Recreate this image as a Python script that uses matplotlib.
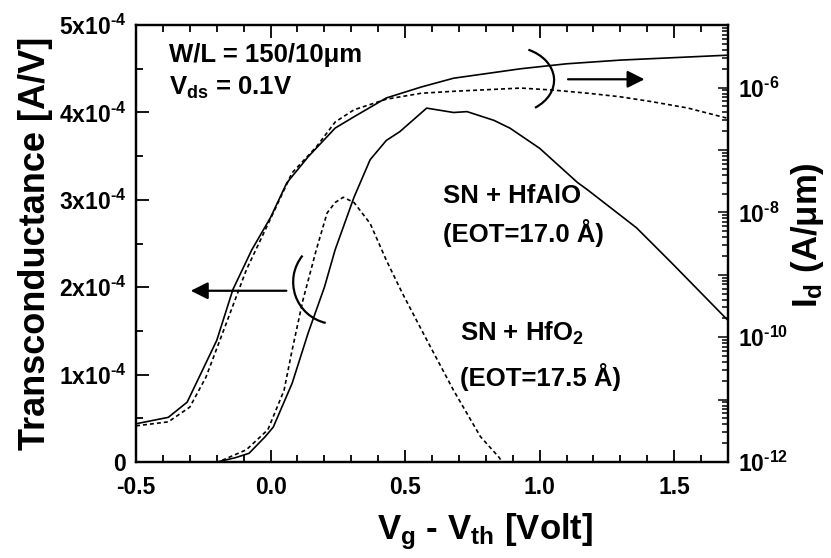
import math
import matplotlib
matplotlib.use('Agg')
import matplotlib.pyplot as plt
from matplotlib.patches import Arc
from matplotlib.transforms import ScaledTranslation
from matplotlib.ticker import MultipleLocator, FuncFormatter, LogLocator, NullFormatter

plt.rcParams['font.family'] = ['Liberation Sans', 'DejaVu Sans']
plt.rcParams['font.weight'] = 'bold'
plt.rcParams['mathtext.fontset'] = 'custom'
plt.rcParams['mathtext.rm'] = 'Liberation Sans:bold'
plt.rcParams['mathtext.it'] = 'Liberation Sans:bold'
plt.rcParams['mathtext.bf'] = 'Liberation Sans:bold'

# transconductance (left axis)
gm_v_hfalo = [-0.20, -0.13, -0.08, -0.02, 0.01, 0.08, 0.14, 0.20, 0.24, 0.31, 0.37, 0.43,
              0.48, 0.58, 0.68, 0.73, 0.83, 0.89, 1.00, 1.14, 1.18, 1.36, 1.49, 1.70]
gm_hfalo = [0.0, 0.05e-4, 0.10e-4, 0.29e-4, 0.40e-4, 0.90e-4, 1.48e-4, 2.00e-4, 2.43e-4,
            3.03e-4, 3.46e-4, 3.68e-4, 3.78e-4, 4.05e-4, 4.00e-4, 4.01e-4, 3.91e-4, 3.82e-4,
            3.59e-4, 3.20e-4, 3.11e-4, 2.68e-4, 2.28e-4, 1.62e-4]

gm_v_hfo2 = [-0.18, -0.09, -0.01, 0.05, 0.08, 0.12, 0.17, 0.21, 0.24, 0.27, 0.31, 0.37,
             0.43, 0.49, 0.58, 0.68, 0.78, 0.85, 0.86]
gm_hfo2 = [0.02e-4, 0.14e-4, 0.37e-4, 0.82e-4, 1.28e-4, 1.85e-4, 2.43e-4, 2.85e-4, 2.97e-4,
           3.03e-4, 2.97e-4, 2.73e-4, 2.31e-4, 1.93e-4, 1.40e-4, 0.82e-4, 0.29e-4, 0.05e-4, 0.0]

# drain current (right axis, log)
id_v_hfalo = [-0.50, -0.38, -0.31, -0.20, -0.14, -0.07, 0.00, 0.06, 0.14, 0.24, 0.31, 0.43,
              0.56, 0.68, 0.93, 1.10, 1.30, 1.70]
id_hfalo = [4.1e-12, 5.2e-12, 9.1e-12, 8.9e-11, 5.8e-10, 2.5e-9, 8.3e-9, 2.95e-8, 7.8e-8,
            2.24e-7, 3.4e-7, 6.8e-7, 1.02e-6, 1.41e-6, 2.0e-6, 2.4e-6, 2.75e-6, 3.3e-6]

id_v_hfo2 = [-0.50, -0.38, -0.30, -0.24, -0.17, -0.09, 0.01, 0.08, 0.17, 0.24, 0.31, 0.43,
             0.56, 0.68, 0.93, 1.05, 1.18, 1.30, 1.42, 1.55, 1.70]
id_hfo2 = [3.8e-12, 4.4e-12, 7.6e-12, 2.3e-11, 1.45e-10, 1.2e-9, 9.8e-9, 4.3e-8, 1.12e-7,
           2.8e-7, 4.4e-7, 6.5e-7, 8.1e-7, 8.7e-7, 9.8e-7, 9.1e-7, 8.1e-7, 7.1e-7, 5.9e-7,
           4.7e-7, 3.2e-7]

HY = '\u2010'  # short hyphen for exponents

fig = plt.figure(figsize=(8.31, 5.58), dpi=100)
ax = fig.add_axes([0.1637, 0.172, 0.7124, 0.783])
ax2 = ax.twinx()

dash = (0, (2.4, 1.8))
ax.plot(gm_v_hfalo, gm_hfalo, color='black', lw=1.2)
ax.plot(gm_v_hfo2, gm_hfo2, color='black', lw=1.2, linestyle=dash)
ax2.plot(id_v_hfalo, id_hfalo, color='black', lw=1.2)
ax2.plot(id_v_hfo2, id_hfo2, color='black', lw=1.2, linestyle=dash)

ax.set_xlim(-0.5, 1.7)
ax.set_ylim(0, 5e-4)
ax2.set_yscale('log')
ax2.set_ylim(1e-12, 1e-5)

ax.xaxis.set_major_locator(MultipleLocator(0.5))
ax.xaxis.set_minor_locator(MultipleLocator(0.1))
ax.yaxis.set_major_locator(MultipleLocator(1e-4))
ax.yaxis.set_minor_locator(MultipleLocator(0.5e-4))
ax.xaxis.set_major_formatter(FuncFormatter(lambda v, p: '%.1f' % v))
ax.yaxis.set_major_formatter(FuncFormatter(
    lambda v, p: '0' if abs(v) < 1e-9 else r'$%dx10^{%s4}$' % (round(v * 1e4), HY)))

ax2.yaxis.set_major_locator(LogLocator(base=10, numticks=20))
ax2.yaxis.set_minor_locator(LogLocator(base=10, subs=range(2, 10), numticks=100))
ax2.yaxis.set_minor_formatter(NullFormatter())


def log_label(v, p):
    e = int(round(math.log10(v)))
    return r'$10^{%s%d}$' % (HY, -e) if e % 2 == 0 else ''


ax2.yaxis.set_major_formatter(FuncFormatter(log_label))

ax.tick_params(which='both', direction='in', top=True, right=False, width=1.3)
ax.tick_params(which='major', length=9, labelsize=16.5)
ax.tick_params(which='minor', length=5)
ax.tick_params(axis='x', which='major', pad=10)
ax.tick_params(axis='y', which='major', pad=7)
ax2.tick_params(which='both', direction='in', width=1.1)
ax2.tick_params(which='major', length=7, labelsize=16.5, pad=7)
ax2.tick_params(which='minor', length=4)

for a in (ax, ax2):
    for s in a.spines.values():
        s.set_linewidth(1.6)

ax.set_xlabel('V$_g$ - V$_{th}$ [Volt]', fontsize=25, fontweight='bold')
ax.xaxis.set_label_coords(0.59, -0.112)
ax.set_ylabel('Transconductance [A/V]', fontsize=26, fontweight='bold', labelpad=4)
ax2.set_ylabel('I$_d$ (A/μm)', fontsize=25, fontweight='bold')
ax2.yaxis.set_label_coords(1.103, 0.52)

ax.text(0.055, 0.932, 'W/L = 150/10μm', transform=ax.transAxes, fontsize=18.5,
        fontweight='bold', va='center')
ax.text(0.055, 0.856, 'V$_{ds}$ = 0.1V', transform=ax.transAxes, fontsize=18.5,
        fontweight='bold', va='center')
ax.text(0.518, 0.61, 'SN + HfAlO', transform=ax.transAxes, fontsize=18.5,
        fontweight='bold', va='center')
ax.text(0.518, 0.525, '(EOT=17.0 Å)', transform=ax.transAxes, fontsize=18.5,
        fontweight='bold', va='center')
ax.text(0.547, 0.295, 'SN + HfO$_2$', transform=ax.transAxes, fontsize=18.5,
        fontweight='bold', va='center')
ax.text(0.547, 0.195, '(EOT=17.5 Å)', transform=ax.transAxes, fontsize=18.5,
        fontweight='bold', va='center')

# arrows and arcs
arrow = dict(arrowstyle='-|>', color='black', lw=1.6, mutation_scale=26)
ax.annotate('', xy=(-0.307, 1.96e-4), xytext=(0.069, 1.96e-4), arrowprops=arrow)
ax.annotate('', xy=(1.40, 4.38e-4), xytext=(1.095, 4.38e-4), arrowprops=arrow)

# arcs sized in inches, centred on a data point
arc_l = fig.dpi_scale_trans + ScaledTranslation(0.24, 2.06e-4, ax.transData)
ax.add_patch(Arc((0, 0), 0.84, 0.84, theta1=141, theta2=257, color='black', lw=1.6,
                 transform=arc_l))
arc_r = fig.dpi_scale_trans + ScaledTranslation(0.89, 4.37e-4, ax.transData)
ax.add_patch(Arc((0, 0), 0.88, 0.67, theta1=-48, theta2=59, color='black', lw=1.6,
                 transform=arc_r))

fig.savefig('out.png', dpi=100)
